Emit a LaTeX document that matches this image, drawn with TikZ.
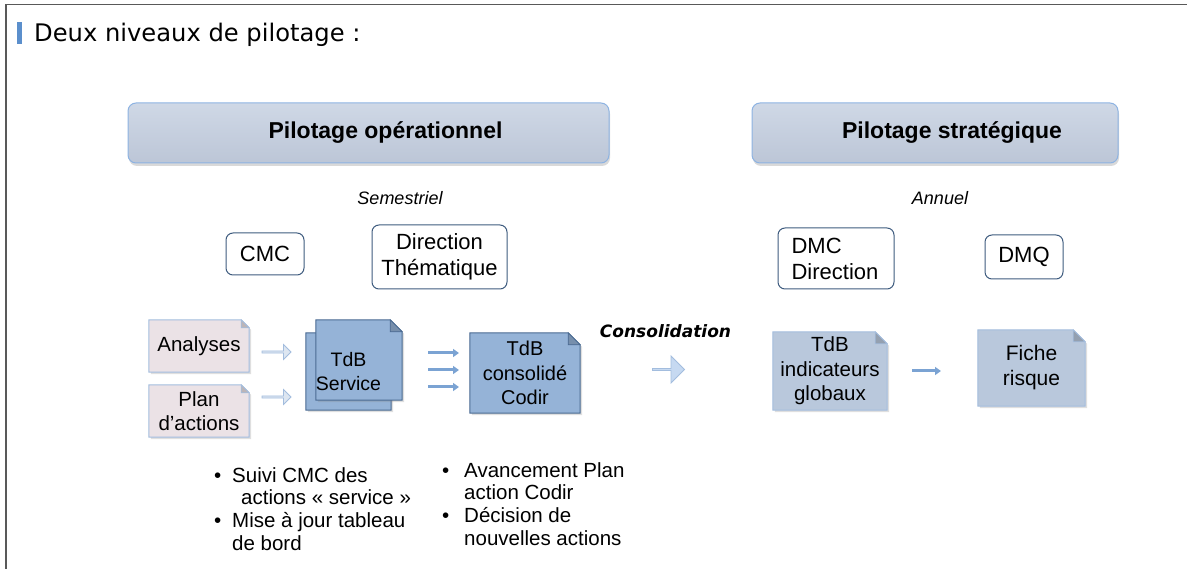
\documentclass[tikz,border=0pt]{standalone}
\usepackage{fontspec}
\setmainfont{Liberation Sans}
\newfontfamily\titlefont{DejaVu Sans}
\usetikzlibrary{shadows,backgrounds,arrows.meta,shapes.arrows}
\definecolor{hdrtop}{HTML}{CFD8E6}
\definecolor{hdrbot}{HTML}{BCC6D7}
\definecolor{hdrborder}{HTML}{8DB3E2}
\definecolor{rbborder}{HTML}{3F5C7F}
\definecolor{pinkfill}{HTML}{EBE2E6}
\definecolor{lightborder}{HTML}{A3BDDE}
\definecolor{bluefill}{HTML}{95B3D7}
\definecolor{blueborder}{HTML}{4A6A92}
\definecolor{grayfill}{HTML}{B9C8DC}
\definecolor{arrowblue}{HTML}{7BA3D3}
\definecolor{hollowfill}{HTML}{DDE6F1}
\definecolor{bigfill}{HTML}{C6D9F1}
\definecolor{marker}{HTML}{5B8FCC}
\newcommand\docoutline[4]{%
  \begin{scope}[on background layer]
    \path[fill=#2,draw=#3,line width=1pt,drop shadow={opacity=0.25,shadow xshift=2pt,shadow yshift=-2pt}]
      (#1.south west) -- (#1.north west) -- ([xshift=-#4]#1.north east)
      -- ([yshift=-#4]#1.north east) -- (#1.south east) -- cycle;
    \path[fill=#2!80!black,draw=#3,line width=0.6pt]
      ([xshift=-#4]#1.north east) -- ([xshift=-#4,yshift=-#4]#1.north east)
      -- ([yshift=-#4]#1.north east) -- cycle;
  \end{scope}}
\begin{document}
\begin{tikzpicture}[x=1pt,y=-1pt,
  hdr/.style={rounded corners=8pt,draw=hdrborder,line width=1pt,top color=hdrtop,bottom color=hdrbot,
    minimum height=60pt,inner sep=0pt,font=\fontsize{23}{27}\selectfont\bfseries,
    drop shadow={opacity=0.3,shadow xshift=1pt,shadow yshift=-3pt}},
  rbox/.style={rounded corners=7pt,draw=rbborder,line width=1pt,fill=white,inner sep=0pt,
    font=\fontsize{22}{26}\selectfont,align=center},
  doc/.style={inner sep=0pt,font=\fontsize{20.5}{24.5}\selectfont,align=center},
  period/.style={font=\fontsize{18}{21}\selectfont\itshape},
  hollow/.style={single arrow,draw=lightborder,fill=hollowfill,line width=0.8pt,
    minimum height=29pt,minimum width=15pt,single arrow head extend=2.5pt,inner sep=0pt,
    single arrow tip angle=90},
  flow/.style={draw=arrowblue,line width=3pt,-{Triangle[length=6pt,width=8pt]}},
  lst/.style={anchor=north west,inner sep=0pt,font=\fontsize{20.5}{22.7}\selectfont}
  ]
\useasboundingbox (0,0) rectangle (1187,569);
% frame
\draw[line width=1.6pt,black!65] (6,569) -- (6,4.5) -- (1187,4.5);
% title
\fill[marker] (17,22) rectangle (22,44);
\node[anchor=base west,inner sep=0pt,font=\titlefont\fontsize{24.2}{28}\selectfont] (title) at (34,42) {Deux niveaux de pilotage :};
% headers
\node[hdr,minimum width=481pt] (hop) at (368.5,133) {\hspace*{34pt}Pilotage opérationnel};
\node[hdr,minimum width=366pt] (hst) at (935,133) {\hspace*{34pt}Pilotage stratégique};
\node[period] (sem) at (400,198) {Semestriel};
\node[period] (ann) at (940,198) {Annuel};
% rounded boxes
\node[rbox,minimum width=78pt,minimum height=42pt] (cmc) at (265,254) {CMC};
\node[rbox,minimum width=135pt,minimum height=64pt] (dth) at (439.5,257) {Direction\\Thématique};
\node[rbox,minimum width=116pt,minimum height=61pt,align=left] (dmc) at (836,258.5) {DMC\\Direction\hspace*{2pt}};
\node[rbox,minimum width=78pt,minimum height=44pt] (dmq) at (1024,257) {DMQ};
% documents
\node[doc,minimum width=100pt,minimum height=52pt] (ana) at (199,346) {Analyses};
\docoutline{ana}{pinkfill}{lightborder}{8pt}
\node[doc,minimum width=100pt,minimum height=52pt] (plan) at (199,411) {Plan\\d’actions};
\docoutline{plan}{pinkfill}{lightborder}{8pt}
\node[doc,minimum width=86pt,minimum height=80pt] (tsb) at (359,360) {};
\node[doc,minimum width=85pt,minimum height=77pt,font=\fontsize{19.5}{23.5}\selectfont] (tds) at (348.5,371.5) {TdB\\Service};
\docoutline{tds}{bluefill}{blueborder}{12pt}
\docoutline{tsb}{bluefill}{blueborder}{12pt}
\node[doc,minimum width=110pt,minimum height=80pt,font=\fontsize{20}{24.5}\selectfont] (cod) at (525,373) {TdB\\consolidé\\Codir};
\docoutline{cod}{bluefill}{blueborder}{12pt}
\node[doc,minimum width=114pt,minimum height=78pt] (ind) at (830,371) {TdB\\indicateurs\\globaux};
\docoutline{ind}{grayfill}{lightborder}{12pt}
\node[doc,minimum width=107pt,minimum height=76pt,font=\fontsize{21}{25}\selectfont] (fic) at (1031.5,368) {Fiche\\risque};
\docoutline{fic}{grayfill}{lightborder}{12pt}
% hollow arrows
\node[hollow] (ha1) at (276,352) {};
\node[hollow] (ha2) at (276,397) {};
% small flow arrows
\coordinate (f1a) at (428,353); \coordinate (f1b) at (459,353);
\coordinate (f2a) at (428,370); \coordinate (f2b) at (459,370);
\coordinate (f3a) at (428,387); \coordinate (f3b) at (459,387);
\draw[flow] (f1a) -- (f1b);
\draw[flow] (f2a) -- (f2b);
\draw[flow] (f3a) -- (f3b);
\coordinate (f4a) at (912,371); \coordinate (f4b) at (941,371);
\draw[flow] (f4a) -- (f4b);
% consolidation
\node[font=\titlefont\fontsize{17}{20}\selectfont\bfseries\itshape] (cons) at (665.5,331) {Consolidation};
\node[single arrow,draw=lightborder,fill=bigfill,line width=0.8pt,minimum height=32pt,minimum width=27pt,
  single arrow head extend=5pt,inner sep=0pt,single arrow tip angle=90] (big) at (668,369.5) {};
% lists
\node[lst] (l1) at (214,466) {\begin{tabular}{@{}p{18pt}@{}l@{}}
\textbullet & Suivi CMC des\\
 & \hspace*{9pt}actions « service »\\
\textbullet & Mise à jour tableau\\
 & de bord
\end{tabular}};
\node[lst] (l2) at (439,461) {\begin{tabular}{@{}p{25pt}@{}l@{}}
\hspace*{3pt}\textbullet & Avancement Plan\\
 & action Codir\\
\hspace*{3pt}\textbullet & Décision de\\
 & nouvelles actions
\end{tabular}};
\end{tikzpicture}
\end{document}
